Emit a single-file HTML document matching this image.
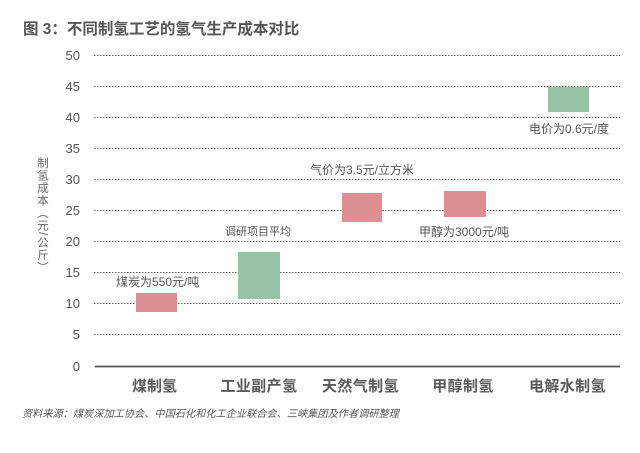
<!DOCTYPE html>
<html><head><meta charset="utf-8"><style>
html,body{margin:0;padding:0;background:#fff;}
body{width:640px;height:453px;overflow:hidden;}
svg{display:block;font-family:"Liberation Sans","Noto Sans CJK SC",sans-serif;}
</style></head><body>
<svg width="640" height="453" viewBox="0 0 640 453" xmlns="http://www.w3.org/2000/svg">
<rect width="640" height="453" fill="#fff"/>
<text x="23" y="34" font-size="15.5" font-weight="bold" fill="#555">图 3：不同制氢工艺的氢气生产成本对比</text>
<g stroke="#666" stroke-width="1" stroke-dasharray="1.5 1.5">
<line x1="94" y1="55.5" x2="620" y2="55.5"/>
<line x1="94" y1="86.5" x2="620" y2="86.5"/>
<line x1="94" y1="117.5" x2="620" y2="117.5"/>
<line x1="94" y1="148.5" x2="620" y2="148.5"/>
<line x1="94" y1="179.5" x2="620" y2="179.5"/>
<line x1="94" y1="210.5" x2="620" y2="210.5"/>
<line x1="94" y1="241.5" x2="620" y2="241.5"/>
<line x1="94" y1="272.5" x2="620" y2="272.5"/>
<line x1="94" y1="303.5" x2="620" y2="303.5"/>
<line x1="94" y1="334.5" x2="620" y2="334.5"/>
</g>
<line x1="95" y1="366.5" x2="620" y2="366.5" stroke="#555" stroke-width="1.8"/>
<g font-size="13" fill="#555" text-anchor="end">
<text x="80" y="60">50</text>
<text x="80" y="91">45</text>
<text x="80" y="122">40</text>
<text x="80" y="153">35</text>
<text x="80" y="184">30</text>
<text x="80" y="215">25</text>
<text x="80" y="246">20</text>
<text x="80" y="277">15</text>
<text x="80" y="308">10</text>
<text x="80" y="339">5</text>
<text x="80" y="371">0</text>
</g>
<text x="42" y="157" font-size="11.5" fill="#666" style="writing-mode:vertical-rl" letter-spacing="1">制氢成本（元/公斤）</text>
<g>
<rect x="136" y="293" width="41" height="19" fill="#de8f92"/>
<rect x="238" y="252" width="42" height="47" fill="#96c3a5"/>
<rect x="342" y="193" width="40" height="29" fill="#de8f92"/>
<rect x="444" y="191" width="42" height="26" fill="#de8f92"/>
<rect x="548" y="87" width="41" height="25" fill="#96c3a5"/>
</g>
<g font-size="12" fill="#555">
<text x="116" y="286">煤炭为550元/吨</text>
<text x="225" y="235" font-size="11">调研项目平均</text>
<text x="310" y="174">气价为3.5元/立方米</text>
<text x="419" y="236">甲醇为3000元/吨</text>
<text x="529" y="133">电价为0.6元/度</text>
</g>
<g font-size="15" font-weight="bold" fill="#5a5a5a" text-anchor="middle">
<text x="154.5" y="391">煤制氢</text>
<text x="259" y="391" letter-spacing="0.4">工业副产氢</text>
<text x="360.5" y="391" letter-spacing="0.4">天然气制氢</text>
<text x="463" y="391" letter-spacing="0.4">甲醇制氢</text>
<text x="567.5" y="391" letter-spacing="0.4">电解水制氢</text>
</g>
<text x="22" y="417" font-size="10.2" font-style="italic" fill="#555">资料来源：煤炭深加工协会、中国石化和化工企业联合会、三峡集团及作者调研整理</text>
</svg>
</body></html>
